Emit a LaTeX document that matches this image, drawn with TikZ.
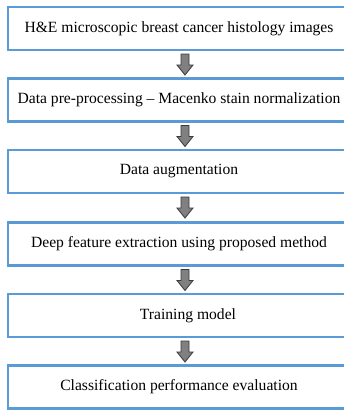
\documentclass[tikz,border=0pt]{standalone}
\usepackage{fontspec}
\setmainfont{Liberation Serif}
\usetikzlibrary{calc}
\definecolor{boxblue}{HTML}{5B9BD5}
\definecolor{arrgray}{HTML}{808080}
\definecolor{arredge}{HTML}{3A3A3A}
\tikzset{
  stepbox/.style={draw=boxblue, line width=2.6pt, fill=white, minimum width=342pt, minimum height=43pt, inner sep=0pt, font=\fontsize{15.6}{18}\selectfont, text=black},
  blockarr/.style={fill=arrgray, draw=arredge, line width=0.8pt, line join=miter}
}
\begin{document}
\begin{tikzpicture}[x=1pt,y=-1pt]
\useasboundingbox (0,0) rectangle (344,410);
\clip (0,0) rectangle (344,410);
\fill[white] (0,0) rectangle (344,410);
\node[stepbox] (b1) at (179,28.5) {H\&E microscopic breast cancer histology images};
\node[stepbox] (b2) at (179,100) {Data pre-processing -- Macenko stain normalization};
\node[stepbox] (b3) at (179,171.5) {Data augmentation};
\node[stepbox] (b4) at (179,244) {Deep feature extraction using proposed method};
\node[stepbox] (b5) at (179,315.5) {\hspace*{18pt}Training model};
\node[stepbox] (b6) at (179,387) {Classification performance evaluation};
\foreach \i/\y in {1/54, 2/125.5, 3/197, 4/269.5, 5/341} {
  \coordinate (a\i) at (185,\y);
  \draw[blockarr] (a\i) ++(-4,0) -- ++(0,11) -- ++(-4,0) -- ++(8,10) -- ++(8,-10) -- ++(-4,0) -- ++(0,-11) -- cycle;
}
\end{tikzpicture}
\end{document}
